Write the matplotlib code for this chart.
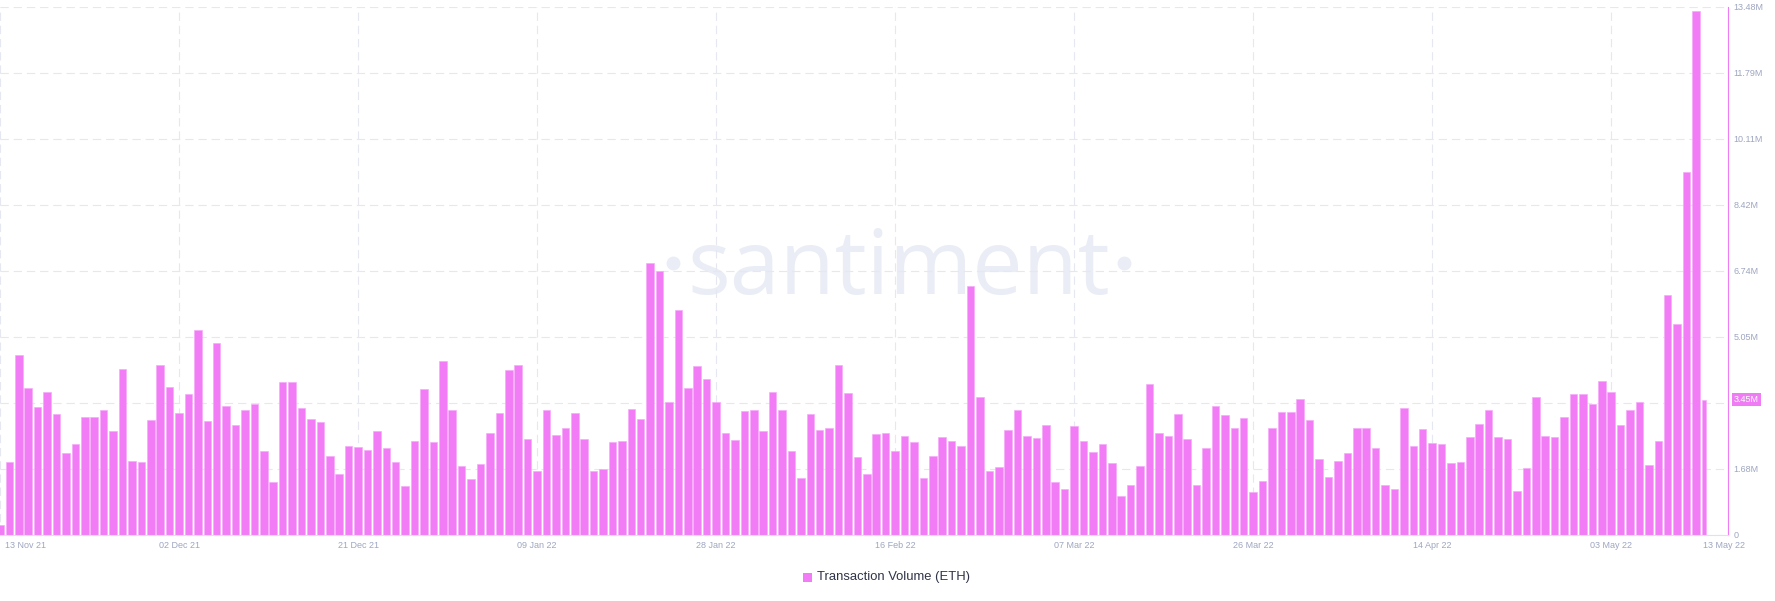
import matplotlib
matplotlib.use('Agg')
import matplotlib.pyplot as plt
import matplotlib.dates as mdates
from matplotlib.patches import Rectangle
import numpy as np
import pandas as pd

# ---------------- data (values in millions of ETH) ----------------
start_date = '2021-11-13'
end_date = '2022-05-13'

vol_nov = [0.25, 1.85, 4.58, 3.74, 3.26, 3.65, 3.09, 2.10, 2.31, 3.00, 3.02, 3.19,
           2.66, 4.24, 1.90, 1.85, 2.93, 4.34]
vol_dec = [3.77, 3.12, 3.59, 5.22, 2.90, 4.89, 3.28, 2.81, 3.19, 3.34, 2.13, 1.35,
           3.91, 3.91, 3.23, 2.95, 2.87, 2.01, 1.55, 2.27, 2.24, 2.16, 2.65, 2.22,
           1.85, 1.26, 2.40, 3.73, 2.38, 4.43, 3.18]
vol_jan = [1.76, 1.44, 1.81, 2.60, 3.12, 4.20, 4.33, 2.44, 1.64, 3.18, 2.56, 2.72,
           3.10, 2.46, 1.64, 1.68, 2.36, 2.41, 3.21, 2.95, 6.95, 6.74, 3.38, 5.75,
           3.74, 4.31, 3.99, 3.38, 2.60, 2.43, 3.17]
vol_feb = [3.20, 2.65, 3.65, 3.20, 2.14, 1.46, 3.09, 2.68, 2.72, 4.33, 3.61, 1.99,
           1.55, 2.57, 2.60, 2.15, 2.52, 2.38, 1.46, 2.01, 2.49, 2.39, 2.27, 6.34,
           3.53, 1.63, 1.73, 2.68]
vol_mar = [3.18, 2.52, 2.47, 2.81, 1.35, 1.17, 2.77, 2.39, 2.12, 2.31, 1.83, 0.99,
           1.27, 1.77, 3.85, 2.60, 2.52, 3.08, 2.44, 1.27, 2.22, 3.28, 3.07, 2.73,
           2.98, 1.09, 1.39, 2.73, 3.13, 3.15, 3.48]
vol_apr = [2.94, 1.95, 1.49, 1.88, 2.10, 2.73, 2.74, 2.23, 1.27, 1.18, 3.23, 2.27,
           2.70, 2.35, 2.31, 1.83, 1.87, 2.50, 2.83, 3.19, 2.50, 2.44, 1.11, 1.71,
           3.51, 2.53, 2.50, 3.00, 3.59, 3.59]
vol_may = [3.33, 3.94, 3.66, 2.81, 3.20, 3.40, 1.78, 2.41, 6.11, 5.38, 9.25, 13.36, 3.45]

x_tick_dates = ['2021-11-13', '2021-12-02', '2021-12-21', '2022-01-09', '2022-01-28',
                '2022-02-16', '2022-03-07', '2022-03-26', '2022-04-14', '2022-05-03']
x_tick_labels = ['13 Nov 21', '02 Dec 21', '21 Dec 21', '09 Jan 22', '28 Jan 22',
                 '16 Feb 22', '07 Mar 22', '26 Mar 22', '14 Apr 22', '03 May 22']
end_label = '13 May 22'

y_tick_values = [0, 1.685, 3.37, 5.055, 6.74, 8.425, 10.11, 11.795, 13.48]
y_tick_labels = ['0', '1.68M', '3.37M', '5.05M', '6.74M', '8.42M', '10.11M', '11.79M', '13.48M']

series_label = 'Transaction Volume (ETH)'
watermark = 'santiment'

# ---------------- styling ----------------
W, H = 1775, 601
PINK = '#f27cf6'
PINK_EDGE = '#f6a9f9'
TICK_COL = '#9ea6c1'
GRID_COL = '#e6e8f1'
WM_COL = '#eaedf5'
FONT = 'Liberation Sans'

values = np.array(vol_nov + vol_dec + vol_jan + vol_feb + vol_mar + vol_apr + vol_may) * 1e6
dates = pd.date_range(start_date, end_date, freq='D')
xnum = mdates.date2num(dates)

plt.rcParams['lines.scale_dashes'] = False
fig = plt.figure(figsize=(W / 100, H / 100), dpi=100)
fig.patch.set_facecolor('white')

ax_bottom_px, ax_top_px = 535, 6.5
ax = fig.add_axes([0, (H - ax_bottom_px) / H, 1728 / W, (ax_bottom_px - ax_top_px) / H])
ax.set_facecolor('none')

bw = 0.80
widths = np.full(len(values), bw)
widths[-1] = 0.42
ax.bar(xnum - bw / 2, values, width=widths, align='edge', color=PINK,
       edgecolor=PINK_EDGE, linewidth=0.45, zorder=2)

ax.set_xlim(xnum[0], xnum[0] + 183.4)
ax.set_ylim(0, y_tick_values[-1] * 1e6)

# grid
tick_pos = mdates.date2num(pd.to_datetime(x_tick_dates))
ax.set_xticks(tick_pos)
ax.set_xticklabels([])
ax.set_yticks([v * 1e6 for v in y_tick_values])
ax.set_yticklabels(y_tick_labels)
ax.yaxis.tick_right()
ax.grid(True, color=GRID_COL, linestyle=(0, (6, 3.5)), linewidth=0.8, zorder=0.5)
ax.set_axisbelow(True)
ax.tick_params(axis='both', length=0, labelsize=6.5, colors=TICK_COL)
ax.tick_params(axis='y', pad=3.8)
for lbl in ax.get_yticklabels():
    lbl.set_fontfamily(FONT)

for s in ['top', 'left']:
    ax.spines[s].set_visible(False)
ax.spines['right'].set_color('#f07cf5')
ax.spines['right'].set_linewidth(0.8)
ax.spines['bottom'].set_color('#dfe2ec')
ax.spines['bottom'].set_linewidth(0.8)

# x labels
for i, (p, lab) in enumerate(zip(tick_pos, x_tick_labels)):
    if i == 0:
        ax.annotate(lab, xy=(p, 0), xycoords=('data', 'axes fraction'), xytext=(5, -10),
                    textcoords='offset pixels', ha='left', va='center', fontsize=6.5,
                    color=TICK_COL, family=FONT, annotation_clip=False)
    else:
        ax.annotate(lab, xy=(p, 0), xycoords=('data', 'axes fraction'), xytext=(0, -10),
                    textcoords='offset pixels', ha='center', va='center', fontsize=6.5,
                    color=TICK_COL, family=FONT, annotation_clip=False)
ax.annotate(end_label, xy=(1, 0), xycoords='axes fraction', xytext=(-4, -10),
            textcoords='offset pixels', ha='center', va='center', fontsize=6.5,
            color=TICK_COL, family=FONT, annotation_clip=False)

# current value label
last = values[-1]
ax.annotate(f'{last / 1e6:.2f}M', xy=(1, last), xycoords=('axes fraction', 'data'),
            xytext=(6, 0), textcoords='offset pixels', ha='left', va='center',
            fontsize=6.5, color='white', family=FONT, annotation_clip=False,
            bbox=dict(boxstyle='square,pad=0.25', fc='#f07cf5', ec='none'), zorder=6)

# watermark
wm = ax.text(687 / W, 1 - 294 / H, watermark, transform=fig.transFigure, fontsize=80,
             family='Open Sans', color=WM_COL, ha='left', va='baseline', zorder=0.3)
fig.canvas.draw()
bb = wm.get_window_extent(fig.canvas.get_renderer())
wm.set_fontsize(80 * 423 / bb.width)
for dx in (673, 1124):
    ax.plot([dx / W], [1 - 263 / H], 'o', ms=10, color=WM_COL, mec='none',
            transform=fig.transFigure, clip_on=False, zorder=0.3)

# legend
fig.add_artist(Rectangle((803 / W, (H - 582) / H), 9 / W, 9 / H, transform=fig.transFigure,
                         facecolor=PINK, edgecolor='none'))
fig.text(817 / W, (H - 577) / H, series_label, fontsize=9.4, family=FONT,
         color='#2f3447', ha='left', va='center')

fig.savefig('out.png', dpi=100, facecolor='white')
